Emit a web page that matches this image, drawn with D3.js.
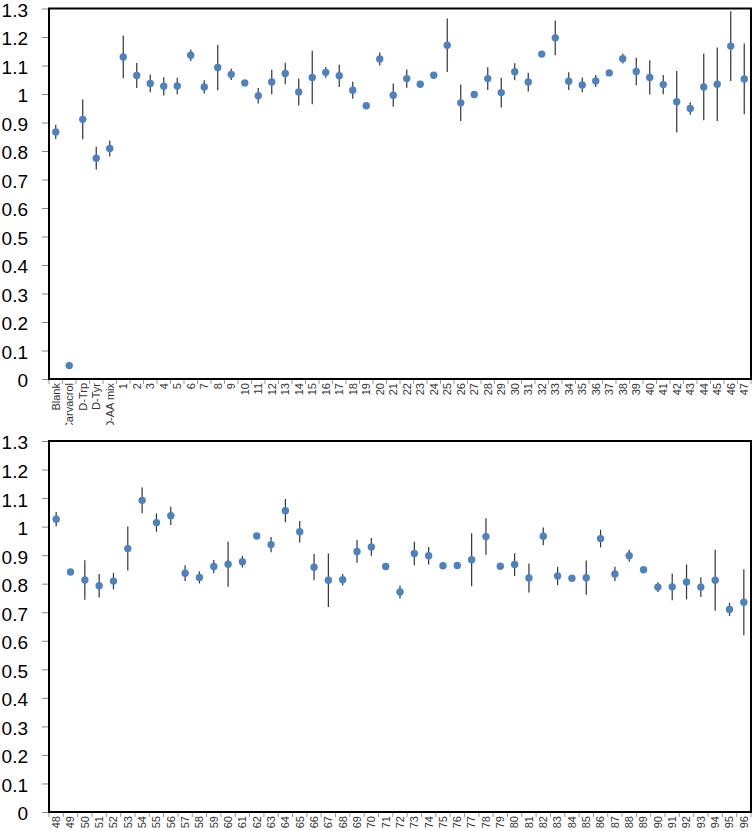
<!DOCTYPE html>
<html>
<head>
<meta charset="utf-8">
<script src="https://cdn.jsdelivr.net/npm/d3@7"></script>
<style>
  body { margin: 0; background: #fff; }
  svg { display: block; font-family: "Liberation Sans", Arial, sans-serif; }
</style>
</head>
<body>
<div id="chart"></div>
<script>
// ---------------- data
var topLabels = ["Blank", "Carvacrol", "D-Trp", "D-Tyr", "D-AA mix",
  "1","2","3","4","5","6","7","8","9","10","11","12","13","14","15","16","17","18","19","20",
  "21","22","23","24","25","26","27","28","29","30","31","32","33","34","35","36","37","38","39","40",
  "41","42","43","44","45","46","47"];
var topMeans = [0.867, 0.047, 0.911, 0.775, 0.809,
  1.130, 1.065, 1.037, 1.027, 1.028, 1.136, 1.025, 1.093, 1.069, 1.039,
  0.994, 1.042, 1.072, 1.007, 1.058, 1.076, 1.064, 1.013, 0.959, 1.123,
  0.996, 1.054, 1.034, 1.066, 1.171, 0.969, 0.998, 1.054, 1.005, 1.078,
  1.042, 1.140, 1.197, 1.045, 1.032, 1.046, 1.074, 1.124, 1.079, 1.058,
  1.033, 0.973, 0.949, 1.025, 1.034, 1.168, 1.053];
var topErr = [0.025, 0, 0.07, 0.04, 0.028,
  0.075, 0.044, 0.031, 0.032, 0.029, 0.02, 0.023, 0.08, 0.02, 0,
  0.027, 0.043, 0.038, 0.047, 0.094, 0.019, 0.039, 0.03, 0, 0.023,
  0.041, 0.032, 0, 0, 0.094, 0.064, 0, 0.04, 0.052, 0.03,
  0.033, 0, 0.061, 0.031, 0.026, 0.021, 0, 0.017, 0.048, 0.06,
  0.034, 0.108, 0.022, 0.117, 0.129, 0.122, 0.124];

var bottomLabels = ["48","49","50","51","52","53","54","55","56","57","58","59","60",
  "61","62","63","64","65","66","67","68","69","70","71","72","73","74","75","76","77","78","79","80",
  "81","82","83","84","85","86","87","88","89","90","91","92","93","94","95","96"];
var bottomMeans = [1.026, 0.841, 0.813, 0.793, 0.809, 0.923, 1.092, 1.014, 1.038, 0.837, 0.822, 0.860, 0.868,
  0.877, 0.967, 0.937, 1.056, 0.982, 0.858, 0.812, 0.814, 0.913, 0.929, 0.860, 0.771, 0.906, 0.898, 0.863, 0.864, 0.884, 0.965, 0.861, 0.867,
  0.820, 0.966, 0.827, 0.819, 0.821, 0.958, 0.834, 0.898, 0.849, 0.788, 0.789, 0.806, 0.788, 0.812, 0.710, 0.735];
var bottomErr = [0.025, 0, 0.069, 0.041, 0.029, 0.077, 0.045, 0.032, 0.032, 0.028, 0.021, 0.023, 0.079,
  0.02, 0, 0.027, 0.041, 0.038, 0.046, 0.094, 0.02, 0.04, 0.031, 0.005, 0.023, 0.041, 0.031, 0, 0, 0.093, 0.064, 0.005, 0.04,
  0.051, 0.031, 0.032, 0, 0.06, 0.031, 0.025, 0.021, 0, 0.017, 0.047, 0.061, 0.035, 0.107, 0.023, 0.116];

var yTicks = [0, 0.1, 0.2, 0.3, 0.4, 0.5, 0.6, 0.7, 0.8, 0.9, 1, 1.1, 1.2, 1.3];

// ---------------- layout
var W = 754, H = 831;
var left = 49, right = 751;

var svg = d3.select("#chart")
  .append("svg")
  .attr("width", W)
  .attr("height", H);

var defs = svg.append("defs");

drawPanel(topLabels, topMeans, topErr, 8.5, 379, 425, "clipTop");
drawPanel(bottomLabels, bottomMeans, bottomErr, 441, 812, H, "clipBottom");

function drawPanel(labels, means, errs, yTop, yBottom, clipBottom, clipId) {
  var data = labels.map(function(l, i) {
    return { label: l, value: means[i], err: errs[i] };
  });

  var x = d3.scaleBand()
    .domain(labels)
    .range([left, right])
    .paddingInner(0)
    .paddingOuter(0);

  var y = d3.scaleLinear()
    .domain([0, 1.3])
    .range([yBottom, yTop]);

  var g = svg.append("g");

  // y axis
  var yAxis = d3.axisLeft(y)
    .tickValues(yTicks)
    .tickSize(7)
    .tickPadding(14)
    .tickFormat(function(d) { return String(+d.toFixed(1)); });

  var ya = g.append("g")
    .attr("transform", "translate(" + left + ",0)")
    .call(yAxis);
  ya.select(".domain").remove();
  ya.selectAll(".tick line").attr("stroke", "#888");
  ya.selectAll(".tick text")
    .attr("font-size", "19px")
    .attr("dy", "0.42em")
    .attr("fill", "#000")
    .attr("font-family", "Liberation Sans, Arial, sans-serif");

  // category boundary ticks on x
  var step = x.step();
  var bounds = d3.range(labels.length + 1).map(function(i) { return x.range()[0] + i * step; });
  g.selectAll(".xtick")
    .data(bounds)
    .enter()
    .append("line")
    .attr("x1", function(d) { return d; })
    .attr("x2", function(d) { return d; })
    .attr("y1", yBottom)
    .attr("y2", yBottom + 5)
    .attr("stroke", "#999")
    .attr("stroke-width", 1);

  // x tick labels, clipped like the original picture
  defs.append("clipPath")
    .attr("id", clipId)
    .append("rect")
    .attr("x", 0)
    .attr("y", yBottom)
    .attr("width", W)
    .attr("height", clipBottom - yBottom);

  g.append("g")
    .attr("clip-path", "url(#" + clipId + ")")
    .selectAll("text")
    .data(data)
    .enter()
    .append("text")
    .attr("transform", function(d) {
      return "translate(" + (x(d.label) + x.bandwidth() / 2) + "," + (yBottom + 4) + ") rotate(-90)";
    })
    .attr("text-anchor", "end")
    .attr("dy", "0.35em")
    .attr("font-size", "11px")
    .attr("fill", "#333")
    .text(function(d) { return d.label; });

  // error bars
  g.selectAll(".err")
    .data(data.filter(function(d) { return d.err > 0; }))
    .enter()
    .append("line")
    .attr("x1", function(d) { return x(d.label) + x.bandwidth() / 2; })
    .attr("x2", function(d) { return x(d.label) + x.bandwidth() / 2; })
    .attr("y1", function(d) { return y(d.value + d.err); })
    .attr("y2", function(d) { return y(d.value - d.err); })
    .attr("stroke", "#333")
    .attr("stroke-width", 1.2);

  // points
  g.selectAll(".pt")
    .data(data)
    .enter()
    .append("circle")
    .attr("cx", function(d) { return x(d.label) + x.bandwidth() / 2; })
    .attr("cy", function(d) { return y(d.value); })
    .attr("r", 3.7)
    .attr("fill", "#4f81bd");

  // plot frame
  g.append("rect")
    .attr("x", left)
    .attr("y", yTop)
    .attr("width", right - left)
    .attr("height", yBottom - yTop)
    .attr("fill", "none")
    .attr("stroke", "#000")
    .attr("stroke-width", 2);
}
</script>
</body>
</html>
